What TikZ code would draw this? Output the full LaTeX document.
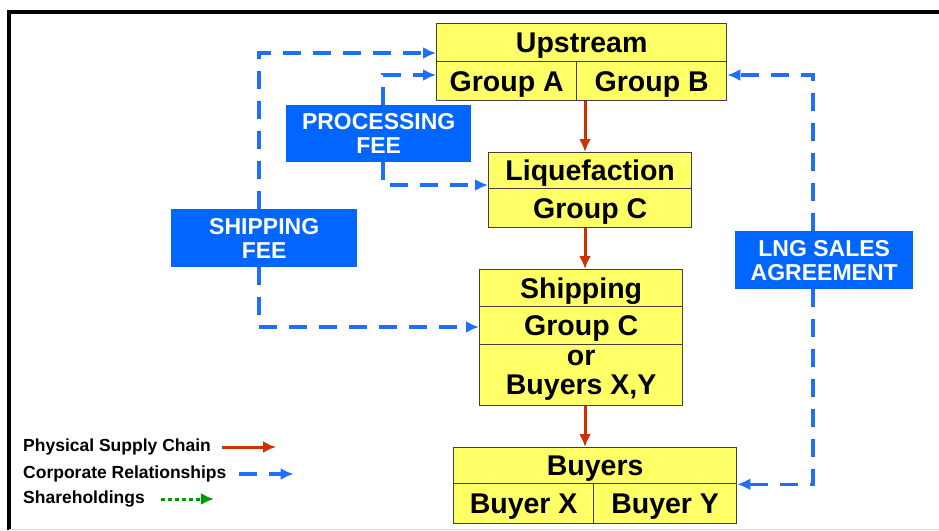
\documentclass[tikz,border=0pt]{standalone}
\usepackage{fontspec}
\setmainfont{Liberation Sans}
\usetikzlibrary{arrows.meta}
\definecolor{boxyellow}{RGB}{255,255,102}
\definecolor{feeblue}{RGB}{0,102,255}
\definecolor{linkblue}{RGB}{30,110,255}
\definecolor{chainred}{RGB}{204,51,0}
\definecolor{sharegreen}{RGB}{0,153,0}

\begin{document}
\begin{tikzpicture}[x=1pt,y=-1pt,
  ybox/.style={draw=black!75,line width=1.3pt,fill=boxyellow,inner sep=0pt,anchor=north west,font=\fontsize{28.5}{29}\selectfont\bfseries,align=center},
  one/.style={text depth=0pt},
  fee/.style={fill=feeblue,text=white,inner sep=0pt,anchor=north west,font=\fontsize{23}{24}\selectfont\bfseries,align=center},
  supply/.style={chainred,line width=3pt,-{Latex[length=13pt,width=12pt]}},
  corp/.style={linkblue,line width=3.5pt,dash pattern=on 18pt off 12pt,-{Latex[length=13pt,width=12pt]}},
  share/.style={sharegreen,line width=3pt,dash pattern=on 4pt off 3pt,-{Latex[length=13pt,width=12pt]}},
  lg/.style={anchor=west,inner sep=0pt,font=\fontsize{17.5}{19}\selectfont\bfseries}]

\useasboundingbox (0,0) rectangle (939,530);

\draw[line width=4pt] (9,530) -- (9,12) -- (939,12);
\draw[black!15,line width=1pt] (9,529) -- (939,529);

\node[ybox,one,minimum width=290pt,minimum height=38pt] (up) at (436,23) {Upstream};
\node[ybox,one,minimum width=140pt,minimum height=39pt] (grpA) at (436,61) {Group A};
\node[ybox,one,minimum width=150pt,minimum height=39pt] (grpB) at (576,61) {Group B};

\node[ybox,one,minimum width=203pt,minimum height=36pt] (liq) at (488,152) {Liquefaction};
\node[ybox,one,minimum width=203pt,minimum height=39pt] (liqC) at (488,188) {Group C};

\node[ybox,one,minimum width=203pt,minimum height=37pt] (ship) at (479,269) {Shipping};
\node[ybox,one,minimum width=203pt,minimum height=38pt] (shipC) at (479,306) {Group C};
\node[ybox,minimum width=203pt,minimum height=61pt] (shipOr) at (479,344) {or\\Buyers X,Y};

\node[ybox,one,minimum width=283pt,minimum height=36pt] (byr) at (453,447) {Buyers};
\node[ybox,one,minimum width=140pt,minimum height=40pt] (byrX) at (453,483) {Buyer X};
\node[ybox,one,minimum width=143pt,minimum height=40pt] (byrY) at (593,483) {Buyer Y};

\node[fee,minimum width=185pt,minimum height=57pt] (procfee) at (286,105) {PROCESSING\\FEE};
\node[fee,minimum width=186pt,minimum height=58pt] (shipfee) at (171,209) {SHIPPING\\FEE};
\node[fee,minimum width=178pt,minimum height=58pt] (lng) at (735,231) {LNG SALES\\AGREEMENT};

\coordinate (spine) at (585,0);
\draw[supply] (spine |- grpA.south) -- (spine |- liq.north);
\draw[supply] (spine |- liqC.south) -- (spine |- ship.north);
\draw[supply] (spine |- shipOr.south) -- (spine |- byr.north);

\coordinate (shipx) at (259,0);
\coordinate (procx) at (383,0);
\coordinate (lngx) at (813,0);
\draw[corp] (shipx |- shipfee.north) -- (shipx |- 0,53) -- (up.west |- 0,53);
\draw[corp] (shipx |- shipfee.south) -- (shipx |- 0,327) -- (shipC.west |- 0,327);
\draw[corp] (procx |- procfee.north) -- (procx |- 0,75) -- (grpA.west |- 0,75);
\draw[corp] (procx |- procfee.south) -- (procx |- 0,185) -- (liqC.west |- 0,185);
\draw[corp] (lngx |- lng.north) -- (lngx |- 0,75) -- (grpB.east |- 0,75);
\draw[corp] (lngx |- lng.south) -- (lngx |- byr.south east) -- (byr.south east);

\node[lg] (lgphys) at (23,447) {Physical Supply Chain};
\node[lg] (lgcorp) at (23,474) {Corporate Relationships};
\node[lg] (lgshare) at (23,499) {Shareholdings};
\draw[supply] ([xshift=11pt]lgphys.east) -- ++(54,0);
\draw[corp] ([xshift=12pt]lgcorp.east) -- ++(55,0);
\draw[share] ([xshift=16pt]lgshare.east) -- ++(53,0);
\end{tikzpicture}
\end{document}
